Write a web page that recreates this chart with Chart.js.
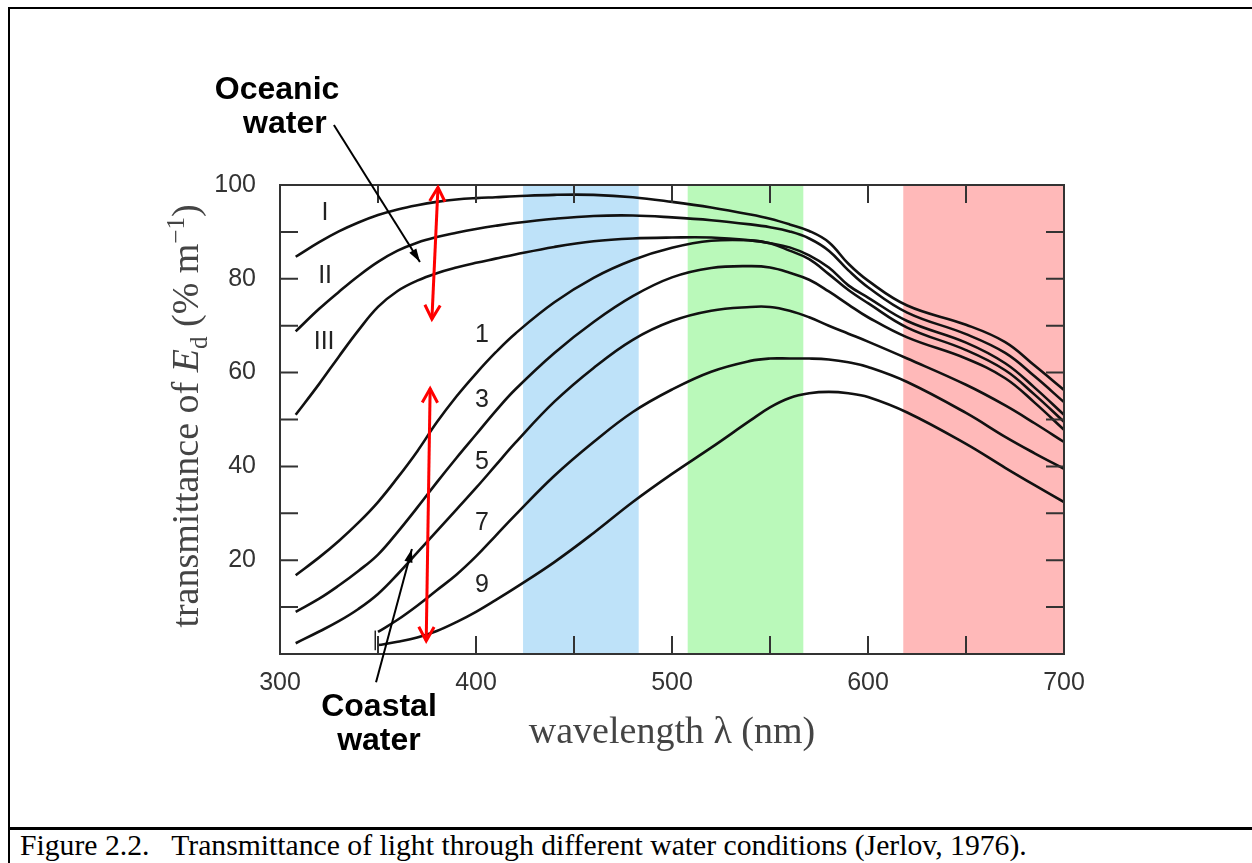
<!DOCTYPE html>
<html>
<head>
<meta charset="utf-8">
<title>Transmittance of light through water</title>
<script src="https://cdn.jsdelivr.net/npm/chart.js@4.4.1/dist/chart.umd.min.js"></script>
<style>
    html, body { margin: 0; padding: 0; background: #fff; }
    body { width: 1252px; height: 863px; position: relative; overflow: hidden; }
    #frame { position: absolute; left: 8px; top: 7px; width: 1300px; height: 900px; border-left: 2px solid #000; border-top: 2px solid #000; box-sizing: border-box; }
    #sep { position: absolute; left: 8px; top: 827px; width: 1260px; height: 3px; background: #000; }
    #caption { position: absolute; left: 20px; top: 830px; font-family: "Liberation Serif", "Times New Roman", serif; font-size: 29.7px; line-height: 30px; color: #000; white-space: pre; }
    #chart { position: absolute; left: 0; top: 0; }
</style>
</head>
<body>
<div id="frame"></div>
<div id="sep"></div>
<div id="caption">Figure 2.2.   Transmittance of light through different water conditions (Jerlov, 1976).</div>
<canvas id="chart" width="1252" height="863"></canvas>
<script>
const wavelengths = [308, 320, 330, 340, 350, 360, 370, 380, 390, 400, 410, 420, 440, 460, 480, 500, 520, 540, 550, 560, 570, 580, 590, 600, 620, 650, 670, 685, 700];

// transmittance (% per m), oceanic types
const typeI   = [84.7, 87.8, 90.1, 92.0, 93.6, 94.8, 95.7, 96.4, 96.9, 97.2, 97.4, 97.6, 97.9, 97.9, 97.4, 96.4, 95.2, 93.7, 92.8, 91.6, 90.2, 87.8, 83.2, 79.6, 74.3, 70.2, 66.5, 61.5, 56.3];
const typeII  = [68.8, 73.6, 77.2, 80.6, 83.6, 86.0, 87.7, 88.9, 89.8, 90.6, 91.3, 91.9, 92.8, 93.4, 93.5, 93.1, 92.5, 91.6, 91.0, 90.1, 88.6, 86.0, 81.8, 78.2, 72.8, 68.2, 64.2, 59.2, 53.7];
const typeIII = [51.0, 57.6, 63.4, 69.0, 74.0, 77.4, 79.6, 81.2, 82.4, 83.4, 84.3, 85.2, 86.8, 88.0, 88.6, 88.8, 88.8, 88.2, 87.6, 86.7, 85.0, 82.4, 78.6, 76.0, 71.0, 66.4, 62.0, 56.8, 51.0];

// coastal types
const type1 = [16.8, 20.6, 24.1, 28.0, 32.4, 37.6, 43.2, 49.4, 54.9, 59.8, 64.3, 68.3, 75.0, 80.2, 84.0, 86.6, 88.1, 88.2, 87.6, 86.0, 84.2, 81.0, 77.6, 74.8, 69.6, 64.8, 60.5, 55.3, 49.5];
const type3 = [9.0, 11.8, 14.6, 17.7, 21.2, 26.0, 31.2, 36.6, 41.8, 46.8, 51.8, 56.4, 64.2, 70.8, 76.3, 80.3, 82.3, 82.7, 82.4, 81.3, 79.8, 77.3, 74.5, 71.8, 67.5, 63.0, 58.8, 53.6, 47.8];
const type5 = [2.3, 4.8, 7.0, 9.6, 12.8, 17.0, 21.6, 26.2, 30.8, 35.4, 40.2, 45.0, 53.8, 61.0, 67.0, 71.0, 73.2, 74.0, 74.0, 73.2, 71.8, 70.0, 68.3, 66.6, 63.0, 57.4, 53.0, 49.2, 45.2];
const type7 = [null, null, null, null, 4.7, 7.3, 10.3, 13.6, 16.9, 20.8, 25.2, 29.6, 38.0, 45.2, 51.6, 56.4, 60.2, 62.5, 63.0, 63.0, 63.0, 62.8, 62.2, 61.2, 58.0, 51.4, 46.3, 42.8, 39.5];
const type9 = [null, null, null, null, 1.9, 2.6, 3.5, 4.9, 6.8, 9.0, 11.5, 14.1, 19.6, 25.8, 32.4, 38.4, 44.0, 49.8, 52.6, 54.6, 55.6, 55.9, 55.6, 54.8, 51.5, 44.8, 39.7, 36.0, 32.4];

const seriesNames = ['I', 'II', 'III', '1', '3', '5', '7', '9'];
const seriesValues = [typeI, typeII, typeIII, type1, type3, type5, type7, type9];

// colour bands (nm)
const bandStart = [424, 508, 618];
const bandEnd = [483, 567, 700];
const bandColor = ['#bee2f9', '#baf9ba', '#ffb9b9'];

const xTicks = [300, 400, 500, 600, 700];
const yTicks = [20, 40, 60, 80, 100];
const xMinor = [350, 400, 450, 500, 550, 600, 650];
const yMinor = [10, 20, 30, 40, 50, 60, 70, 80, 90];

// curve labels: [text, nm, %]
const curveTags = [
    ['I', 323, 94.0], ['II', 323, 80.6], ['III', 322.5, 66.5],
    ['1', 403, 68.0], ['3', 403, 54.2], ['5', 403, 41.0], ['7', 403, 28.0], ['9', 403, 14.7]
];

const SANS = '"Liberation Sans", Arial, sans-serif';
const SERIF = '"Liberation Serif", "Times New Roman", serif';

function arrow(ctx, x0, y0, x1, y1, len, spread, filled) {
    const a = Math.atan2(y1 - y0, x1 - x0);
    const p1 = [x1 - len * Math.cos(a - spread), y1 - len * Math.sin(a - spread)];
    const p2 = [x1 - len * Math.cos(a + spread), y1 - len * Math.sin(a + spread)];
    ctx.beginPath();
    if (filled) {
        ctx.moveTo(x1, y1); ctx.lineTo(p1[0], p1[1]); ctx.lineTo(p2[0], p2[1]); ctx.closePath();
        ctx.fill();
    } else {
        ctx.moveTo(p1[0], p1[1]); ctx.lineTo(x1, y1); ctx.lineTo(p2[0], p2[1]);
        ctx.stroke();
    }
}

const bandPlugin = {
    id: 'bands',
    beforeDatasetsDraw(chart) {
        const {ctx, chartArea: a, scales: {x}} = chart;
        ctx.save();
        bandStart.forEach((s, i) => {
            const x0 = x.getPixelForValue(s);
            const x1 = x.getPixelForValue(bandEnd[i]);
            ctx.fillStyle = bandColor[i];
            ctx.fillRect(x0, a.top, x1 - x0, a.bottom - a.top);
        });
        ctx.restore();
    }
};

const notesPlugin = {
    id: 'notes',
    afterDatasetsDraw(chart) {
        const {ctx, chartArea: a, scales: {x, y}} = chart;
        const px = v => x.getPixelForValue(v);
        const py = v => y.getPixelForValue(v);
        ctx.save();

        // axes box + inward ticks
        ctx.strokeStyle = '#333';
        ctx.lineWidth = 2;
        ctx.strokeRect(a.left, a.top, a.right - a.left, a.bottom - a.top);
        ctx.beginPath();
        yMinor.forEach(v => {
            ctx.moveTo(a.left, py(v)); ctx.lineTo(a.left + 18, py(v));
            ctx.moveTo(a.right, py(v)); ctx.lineTo(a.right - 18, py(v));
        });
        xMinor.forEach(v => {
            ctx.moveTo(px(v), a.bottom); ctx.lineTo(px(v), a.bottom - 18);
            ctx.moveTo(px(v), a.top); ctx.lineTo(px(v), a.top + 18);
        });
        ctx.stroke();

        // small start mark of curves 7 and 9
        ctx.strokeStyle = '#222';
        ctx.lineWidth = 1.5;
        ctx.beginPath();
        ctx.moveTo(px(348.6), py(5.0)); ctx.lineTo(px(348.6), py(0.8));
        ctx.stroke();

        // curve labels
        ctx.fillStyle = '#222';
        ctx.font = '25px ' + SANS;
        ctx.textAlign = 'center';
        ctx.textBaseline = 'middle';
        curveTags.forEach(t => ctx.fillText(t[0], px(t[1]), py(t[2])));

        // red double arrows
        ctx.strokeStyle = '#ff0000';
        ctx.lineWidth = 3;
        [[380.6, 99.5, 377.5, 71.4], [376.6, 56.6, 374.6, 2.8]].forEach(r => {
            const x0 = px(r[0]), y0 = py(r[1]), x1 = px(r[2]), y1 = py(r[3]);
            ctx.beginPath(); ctx.moveTo(x0, y0); ctx.lineTo(x1, y1); ctx.stroke();
            arrow(ctx, x1, y1, x0, y0, 16, 0.5, false);
            arrow(ctx, x0, y0, x1, y1, 16, 0.5, false);
        });

        // black pointer arrows
        ctx.strokeStyle = '#000';
        ctx.fillStyle = '#000';
        ctx.lineWidth = 2;
        [[327.5, 112.8, 371.4, 83.6], [349.0, -6.0, 367.3, 22.4]].forEach(r => {
            const x0 = px(r[0]), y0 = py(r[1]), x1 = px(r[2]), y1 = py(r[3]);
            ctx.beginPath(); ctx.moveTo(x0, y0); ctx.lineTo(x1, y1); ctx.stroke();
            arrow(ctx, x0, y0, x1, y1, 14, 0.3, true);
        });

        // water type notes
        ctx.font = 'bold 32px ' + SANS;
        ctx.fillText('Oceanic', px(298.5), py(120.3));
        ctx.fillText('water', px(302.5), py(113.0));
        ctx.fillText('Coastal', px(350.5), py(-11.3));
        ctx.fillText('water', px(350.5), py(-18.5));

        ctx.restore();
    },
    afterDraw(chart) {
        // y axis title with italic E, subscript d and superscript -1
        const ctx = chart.ctx;
        const parts = [
            ['transmittance of ', '38px ' + SERIF, 0],
            ['E', 'italic 38px ' + SERIF, 0],
            ['d', '25px ' + SERIF, 9],
            [' (% m', '38px ' + SERIF, 0],
            ['\u22121', '25px ' + SERIF, -14],
            [')', '38px ' + SERIF, 0]
        ];
        ctx.save();
        let total = 0;
        parts.forEach(p => { ctx.font = p[1]; total += ctx.measureText(p[0]).width; });
        ctx.translate(185, 416);
        ctx.rotate(-Math.PI / 2);
        ctx.fillStyle = '#444';
        ctx.textBaseline = 'alphabetic';
        ctx.textAlign = 'left';
        let cx = -total / 2;
        parts.forEach(p => {
            ctx.font = p[1];
            ctx.fillText(p[0], cx, 13 + p[2]);
            cx += ctx.measureText(p[0]).width;
        });
        ctx.restore();
    }
};

const datasets = seriesValues.map((vals, i) => ({
    label: seriesNames[i],
    data: wavelengths.map((w, j) => ({x: w, y: vals[j]})),
    borderColor: '#111',
    borderWidth: 2.6,
    pointRadius: 0,
    fill: false,
    tension: 0.4
}));

new Chart(document.getElementById('chart'), {
    type: 'line',
    data: {datasets: datasets},
    plugins: [bandPlugin, notesPlugin],
    options: {
        responsive: false,
        animation: false,
        devicePixelRatio: 1,
        layout: {padding: {top: 185, right: 188, bottom: 0, left: 0}},
        plugins: {legend: {display: false}, tooltip: {enabled: false}},
        scales: {
            x: {
                type: 'linear',
                min: 300,
                max: 700,
                afterFit: s => { s.height = 209; },
                afterBuildTicks: s => { s.ticks = xTicks.map(v => ({value: v})); },
                grid: {display: false},
                border: {display: false},
                ticks: {padding: 6, color: '#333', font: {family: SANS, size: 25}},
                title: {
                    display: true,
                    text: 'wavelength \u03bb (nm)',
                    color: '#444',
                    font: {family: SERIF, size: 38},
                    padding: {top: 0, bottom: 107}
                }
            },
            y: {
                type: 'linear',
                min: 0,
                max: 100,
                afterFit: s => { s.width = 280; },
                afterBuildTicks: s => { s.ticks = yTicks.map(v => ({value: v})); },
                grid: {display: false},
                border: {display: false},
                ticks: {padding: 16, color: '#333', font: {family: SANS, size: 25}}
            }
        }
    }
});
</script>
</body>
</html>
